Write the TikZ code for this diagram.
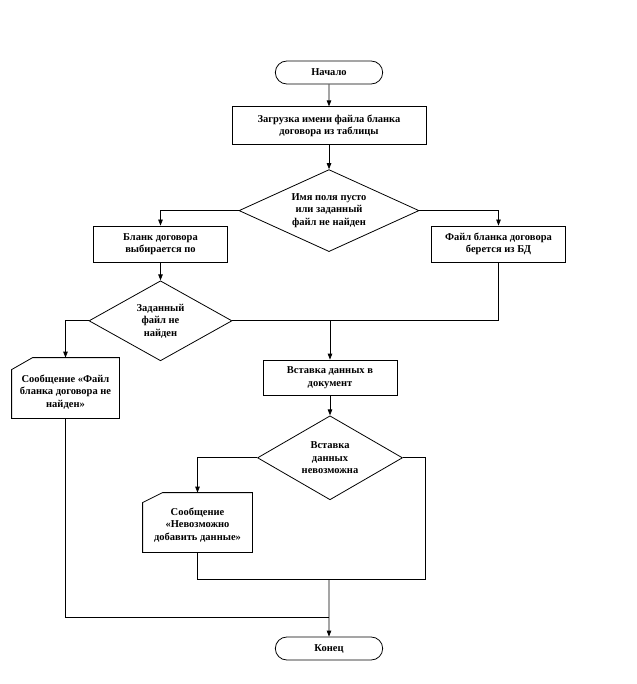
\documentclass[tikz,border=0pt]{standalone}
\usepackage{fontspec}
\setmainfont{Liberation Serif}
\usetikzlibrary{positioning}
\usetikzlibrary{arrows.meta}
\usetikzlibrary{shapes.geometric}
\usetikzlibrary{shapes.misc}
\tikzset{%
    terminal/.style={rounded rectangle, draw, minimum width=114pt, minimum height=23pt},
    process/.style={rectangle, draw, minimum width=134pt, minimum height=36pt},
    decision/.style={diamond, draw, inner sep=0pt},
    message/.style={rectangle, inner sep=2pt},
    line/.style={draw},
    arrow/.style={draw, -{Triangle[length=6pt,width=4.5pt]}}
}
% frame of a message box, top left corner cut off
\newcommand{\cutframe}[3]{\draw ([xshift=#2]#1.north west) -- (#1.north east) -- (#1.south east) -- (#1.south west) -- ([yshift=-#3]#1.north west) -- cycle;}
\begin{document}
\begin{tikzpicture}[x=1pt,y=-1pt,line width=0.8pt]
		\tikzstyle{every node}=[font=\bfseries\fontsize{10.5}{12.5}\selectfont, align=center]
		\useasboundingbox (0,0) rectangle (636,684);

		\node[terminal]                                             (start)    at (329,72.5)          {Начало};
		\node[process,minimum width=194pt,minimum height=38pt]      (load)     [below=22pt of start]  {Загрузка имени файла бланка\\договора из таблицы};
		\node[decision,minimum width=180pt,minimum height=82pt,aspect=2.2] (empty) [below=24pt of load] {Имя поля пусто\\или заданный\\файл не найден};
		\node[process]                                              (choose)   at (160.5,244)         {Бланк договора\\выбирается по};
		\node[process]                                              (fromdb)   at (498.5,244)         {Файл бланка договора\\берется из БД};
		\node[decision,minimum width=143pt,minimum height=80pt,aspect=1.8] (notfound) [below=18pt of choose] {Заданный\\файл не\\найден};
		\node[message,minimum width=107pt,minimum height=60pt,text height=40pt] (msgfile) at (65.5,388) {Сообщение «Файл\\бланка договора не\\найден»};
		\node[process,minimum height=35pt]                          (insert)   at (330,377.5)         {Вставка данных в\\документ};
		\node[decision,minimum width=145pt,minimum height=84pt,aspect=1.7] (failed) [below=20pt of insert] {Вставка\\данных\\невозможна};
		\node[message,minimum width=109pt,minimum height=59pt,text height=37pt] (msgdata) at (197.5,522.5) {Сообщение\\«Невозможно\\добавить данные»};
		\node[terminal]                                             (stop)     at (329,648.5)         {Конец};

		\cutframe{msgfile}{21pt}{12pt}
		\cutframe{msgdata}{20pt}{10pt}

		% points where the lines meet
		\coordinate (join)   at (insert.north |- notfound.east);
		\coordinate (turn)   at (425,579);
		\coordinate (merge)  at (stop.north |- turn);
		\coordinate (bottom) at (stop.north |- 0,617);

		\path[arrow] (start) -- (load);
		\path[arrow] (load) -- (empty);
		\path[arrow] (empty.west) -| (choose.north);
		\path[arrow] (empty.east) -| (fromdb.north);
		\path[arrow] (choose) -- (notfound);
		\path[arrow] (notfound.west) -| (msgfile.north);
		\path[line]  (notfound.east) -| (fromdb.south);
		\path[arrow] (join) -- (insert);
		\path[arrow] (insert) -- (failed);
		\path[arrow] (failed.west) -| (msgdata.north);
		\path[line]  (failed.east) -| (turn) -- (merge);
		\path[line]  (msgdata.south) |- (merge);
		\path[line]  (msgfile.south) |- (bottom);
		\path[arrow] (merge) -- (stop);
	\end{tikzpicture}
\end{document}
